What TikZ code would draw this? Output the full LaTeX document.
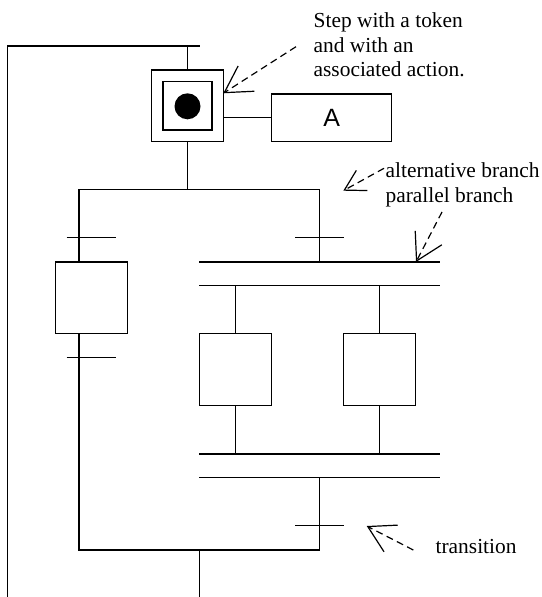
\documentclass[tikz,border=0pt]{standalone}
\usepackage{fontspec}
\setmainfont{Liberation Serif}
\newfontfamily\arialf{Liberation Sans}
\usetikzlibrary{arrows.meta,calc}
\begin{document}
\begin{tikzpicture}[x=1pt,y=-1pt,line width=1.3pt,
  box/.style={draw,inner sep=0pt,line width=1.3pt},
  stepbox/.style={box,minimum width=72pt,minimum height=72pt},
  lbl/.style={inner sep=0pt,align=left,font=\fontsize{21.4}{24.5}\selectfont},
  dasharrow/.style={line width=1.2pt,dash pattern=on 7pt off 4.5pt,-{Straight Barb[length=26pt,width=30pt]}}]
\useasboundingbox (0,0) rectangle (541,597);
% initial step with token
\node[box,minimum width=71.6pt,minimum height=71.6pt] (s0) at (187.5,105.8) {};
\node[box,minimum width=49pt,minimum height=48.3pt] (s0i) at (187.5,105.8) {};
\node[circle,fill,minimum size=26pt,inner sep=0pt] (tok) at (187.5,106.3) {};
\node[box,minimum width=120pt,minimum height=47.7pt,font=\arialf\fontsize{25}{28}\selectfont] (A) at (331.7,117.8) {\raisebox{-3.5pt}{A}};
\draw (s0.east |- A.west) -- (A.west);
% loop back line
\coordinate (tl) at (7.5,46);
\coordinate (tr) at (200,46);
\coordinate (bl) at (7.5,597);
\draw (bl) -- (tl) -- (tr);
\draw (s0.north) -- (s0.north |- tl);
% alternative branch
\coordinate (brL) at (79,189.3);
\coordinate (brR) at (319.3,189.3);
\draw (s0.south) -- (s0.south |- brL);
\node[stepbox,minimum width=72pt,minimum height=71.7pt] (s1) at (91.3,297.8) {};
\draw (brL) -- (brR);
\draw (brL) -- (brL |- s1.north);
\draw (brR) -- (319.3,262);
% transitions
\draw (66.7,237.3) -- (115.7,237.3);
\draw (66.7,357.7) -- (115.7,357.7);
\draw (295,237.3) -- (344,237.3);
\draw (295,525.7) -- (344,525.7);
% parallel branch double lines
\coordinate (d1l) at (199,262);   \coordinate (d1r) at (440,262);
\coordinate (d2l) at (199,285.7); \coordinate (d2r) at (440,285.7);
\coordinate (d3l) at (199,454);   \coordinate (d3r) at (440,454);
\coordinate (d4l) at (199,477.7); \coordinate (d4r) at (440,477.7);
\draw (d1l) -- (d1r);
\draw (d2l) -- (d2r);
\draw (d3l) -- (d3r);
\draw (d4l) -- (d4r);
\node[stepbox,minimum width=72.4pt] (p1) at (235.5,369.7) {};
\node[stepbox,minimum width=72.4pt] (p2) at (379.5,369.7) {};
\draw (p1.north) -- (p1.north |- d2l);
\draw (p2.north) -- (p2.north |- d2l);
\draw (p1.south) -- (p1.south |- d3l);
\draw (p2.south) -- (p2.south |- d3l);
% merge
\coordinate (jL) at (79,550);
\coordinate (jR) at (319.3,550);
\coordinate (jB) at (199.3,550);
\coordinate (bot) at (199.3,597);
\draw (brL |- s1.south) -- (jL) -- (jR) -- (jR |- d4l);
\draw (jB) -- (bot);
% labels
\node[lbl,anchor=north west] (lab1) at (313,12.3) {Step with a token\\and with an\\associated action.};
\node[lbl,anchor=north west] (lab2) at (385,162) {alternative branch\\parallel branch};
\node[lbl,anchor=base west] (lab3) at (435,553.3) {transition};
% dashed pointer arrows
\coordinate (a1s) at (296,46.7);
\coordinate (a1e) at (223.3,93.3);
\coordinate (a2s) at (384,168.3);
\coordinate (a2e) at (343.3,190.7);
\coordinate (a3s) at (442,212);
\coordinate (a3e) at (416,262);
\coordinate (a4s) at (413.3,550);
\coordinate (a4e) at (366.7,526);
\draw[dasharrow] (a1s) -- (a1e);
\draw[dasharrow,-{Straight Barb[length=20pt,width=23pt]}] (a2s) -- (a2e);
\draw[dasharrow] (a3s) -- (a3e);
\draw[dasharrow] (a4s) -- (a4e);
\end{tikzpicture}
\end{document}
